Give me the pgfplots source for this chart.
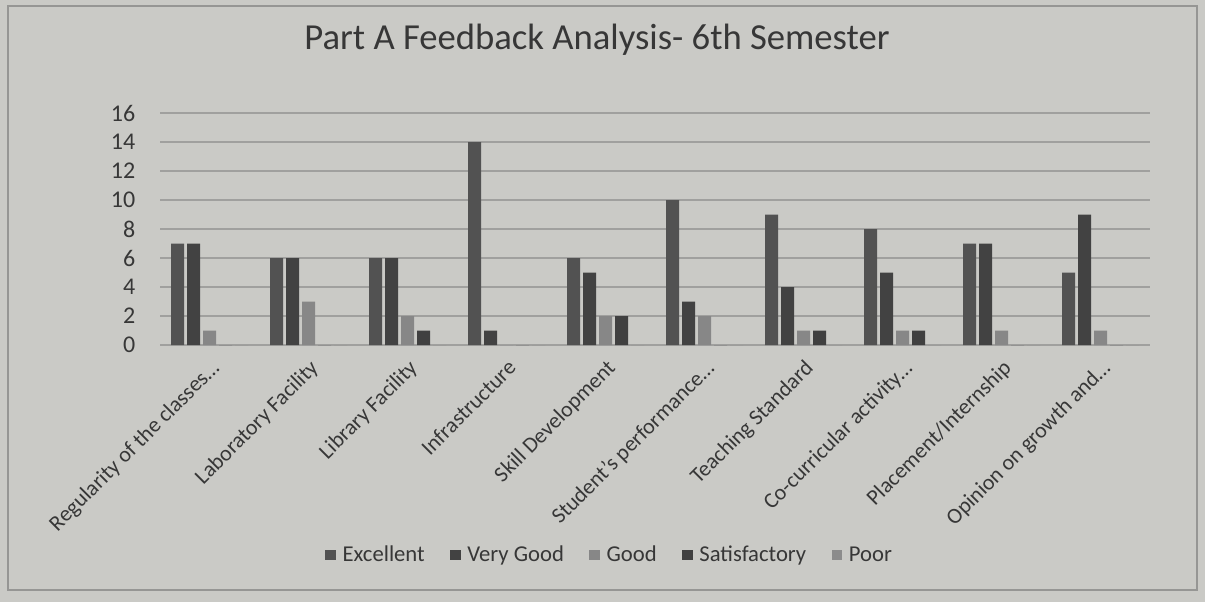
\documentclass[border=0pt]{standalone}
\usepackage{fontspec}
\setmainfont{Carlito}
\usepackage{pgfplots}
\pgfplotsset{compat=1.18}
\definecolor{paper}{RGB}{202,202,198}
\definecolor{framec}{RGB}{150,150,148}
\definecolor{gridc}{RGB}{160,160,158}
\definecolor{txt}{RGB}{55,55,55}
\definecolor{cexc}{RGB}{82,82,82}
\definecolor{cvg}{RGB}{66,66,66}
\definecolor{cgood}{RGB}{135,135,135}
\definecolor{csat}{RGB}{64,64,64}
\definecolor{cpoor}{RGB}{140,140,140}
\begin{document}
\begin{tikzpicture}
\fill[paper] (0pt,0pt) rectangle (903.75pt,-451.5pt);
\draw[framec, line width=0.8pt] (6pt,-4.5pt) rectangle (897.75pt,-442.5pt);
\node[text=txt, font=\fontsize{27.5}{32}\selectfont] at (447.75pt,-30pt) {Part A Feedback Analysis- 6th Semester};
\begin{axis}[
  at={(120pt,-258.75pt)}, anchor=south west,
  scale only axis, width=742.5pt, height=174pt,
  ybar=2.25pt, bar width=9.75pt,
  xmin=-0.5, xmax=9.5, ymin=0, ymax=16,
  ytick={0,2,...,16},
  xtick={0,...,9},
  xticklabels={{Regularity of the classes…},{Laboratory Facility},{Library Facility},{Infrastructure},{Skill Development},{Student's performance…},{Teaching Standard},{Co-curricular activity…},{Placement/Internship},{Opinion on growth and…}},
  axis x line*=bottom, axis y line*=left,
  x axis line style={gridc, line width=0.8pt, -},
  y axis line style={draw=none},
  major tick length=0pt,
  ymajorgrids, grid style={gridc, line width=0.8pt},
  /pgf/number format/assume math mode=true,
  yticklabel style={text=txt, font=\fontsize{18}{20}\selectfont, xshift=-15pt},
  xticklabel style={text=txt, font=\fontsize{16.5}{18}\selectfont, rotate=45, anchor=north east, inner sep=1pt, yshift=-6pt, xshift=-6pt},
  legend style={at={(0.4545,-0.905)}, anchor=center, draw=none, fill=none, text=txt,
    font=\fontsize{17}{19}\selectfont, legend columns=5,
    /tikz/every even column/.append style={column sep=17pt},
    /tikz/every odd column/.append style={column sep=3pt}},
  legend image code/.code={\fill[#1,draw=none] (0pt,-4pt) rectangle (8pt,4pt);},
]
\addplot[fill=cexc, draw=none] coordinates {(0,7) (1,6) (2,6) (3,14) (4,6) (5,10) (6,9) (7,8) (8,7) (9,5)};
\addplot[fill=cvg, draw=none] coordinates {(0,7) (1,6) (2,6) (3,1) (4,5) (5,3) (6,4) (7,5) (8,7) (9,9)};
\addplot[fill=cgood, draw=none] coordinates {(0,1) (1,3) (2,2) (3,0) (4,2) (5,2) (6,1) (7,1) (8,1) (9,1)};
\addplot[fill=csat, draw=none] coordinates {(0,0) (1,0) (2,1) (3,0) (4,2) (5,0) (6,1) (7,1) (8,0) (9,0)};
\addplot[fill=cpoor, draw=none] coordinates {(0,0) (1,0) (2,0) (3,0) (4,0) (5,0) (6,0) (7,0) (8,0) (9,0)};
\legend{Excellent,Very Good,Good,Satisfactory,Poor}
\end{axis}
\end{tikzpicture}
\end{document}
